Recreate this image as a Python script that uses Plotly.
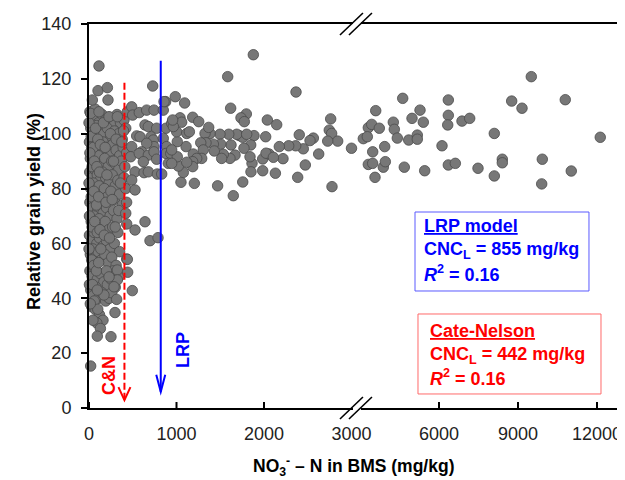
import plotly.graph_objects as go

# ---------------- data ----------------
# NO3-N in BMS (mg/kg) and relative grain yield (%)
dense_x = [10, 40, 70, 110, 150, 190, 230, 280, 320, 360, 400, 20, 60, 90, 130, 170, 210, 250, 290, 340, 380, 420,
           5, 30, 55, 85, 120, 160, 200, 240, 270, 310, 350, 390, 430, 15, 45, 75, 105, 140, 180, 220, 260, 300, 340, 370, 410,
           8, 35, 65, 95, 125, 155, 190, 230, 265, 300, 330, 400, 20, 50, 80, 115, 145, 175, 210, 250, 290, 350, 420,
           10, 40, 70, 100, 130, 160, 200, 240, 280, 320, 380, 25, 55, 85, 115, 150, 185, 225, 270, 330,
           5, 30, 60, 90, 120, 160, 200, 240, 290, 350, 15, 45, 75, 105, 140, 180, 220, 260, 310,
           10, 35, 65, 95, 130, 170, 210, 250, 300, 20, 50, 80, 110, 150, 190, 30, 70, 120, 160, 90, 130,
           0, 25, 50, 75, 100, 130, 10, 35, 60, 90, 120, 0, 25, 55, 85, 110, 5, 35, 65, 95, 125, 0, 30, 55, 85, 110,
           5, 40, 60, 100, 15, 45, 135, 175, 195, 205, 185, 165, 245, 280, 310, 265, 235, 300, 340, 360, 375, 395,
           345, 280, 200, 230, 260, 114, 103, 210, 217, 38, 19, 114, 229, 324, 438, 297, 316, 442, 431, 19, 95, 251,
           324, 324, 229, 286, 171, 95]
dense_y = [108, 106, 109, 104, 107, 105, 106, 103, 107, 104, 105, 102, 100, 103, 101, 100, 102, 99, 101, 100, 98, 102,
           97, 95, 98, 96, 94, 97, 95, 93, 96, 94, 92, 95, 93, 91, 92, 90, 92, 89, 91, 88, 90, 89, 87, 90, 88,
           86, 84, 87, 85, 83, 86, 84, 82, 85, 81, 83, 84, 80, 82, 79, 81, 78, 80, 77, 79, 76, 78, 80,
           75, 73, 76, 72, 74, 71, 73, 70, 72, 69, 74, 68, 70, 67, 69, 66, 68, 65, 66, 64,
           63, 61, 64, 60, 62, 59, 61, 58, 60, 57, 56, 58, 55, 57, 54, 56, 53, 55, 52,
           50, 48, 51, 47, 49, 46, 45, 47, 44, 43, 41, 44, 40, 42, 39, 37, 36, 34, 32, 31, 29,
           104, 99, 95, 102, 98, 96, 93, 88, 90, 88, 86, 82, 77, 79, 74, 77, 70, 66, 68, 64, 65, 58, 54, 52, 50, 53,
           45, 45, 39, 36, 38, 32, 58, 63, 75, 85, 95, 104, 100, 90, 98, 76, 62, 66, 72, 82, 97, 101,
           48, 50, 50, 40, 42, 124.7, 115.7, 116.8, 112.3, 112.3, 107.4, 108, 106.2, 106.2, 108, 34.8, 39.6, 49.5, 54.3, 15.3, 26.2, 26.0,
           50.3, 46.7, 47.8, 44.2, 41.2, 43]

mid_x = [728, 488, 499, 575, 659, 743, 849, 876, 640, 678, 773, 880, 945, 545, 583, 709, 735, 849, 888, 743, 659, 602,
         488, 476, 575, 678, 743, 773, 880, 934, 906, 621, 526, 629, 678, 781, 831, 488, 526, 640, 526, 697, 789, 438,
         495, 431, 430, 420, 857,
         1878, 1585, 2366, 986, 1093, 1619, 1798, 1737, 1775, 2038, 2145, 2762, 2746, 2773, 2842, 2728, 2403, 2564, 2526,
         2625, 2472, 2385, 2777, 2449, 2362, 2282, 2175, 2217, 2130, 1985, 1985, 2057, 2023, 2107, 2019, 1886, 1848, 1771,
         1863, 1851, 1757, 1649, 1470, 1204, 1051, 1078, 1021, 1718, 1757, 1688, 1802, 1597, 1497, 1383, 1326, 1368, 1623,
         1505, 1421, 1337, 1277, 1669, 1611, 1535, 1432, 1516, 1306, 1288, 1192, 1231, 1185, 1185, 1117, 1009, 1109, 1009,
         1002, 1117, 1147, 1040, 1059, 1185, 1254, 964, 956, 945, 945, 1840]
mid_y = [117.4, 109.8, 106.8, 107.7, 108.6, 108.6, 108.6, 111.7, 103.2, 102.6, 102.0, 102.0, 103.8, 99.2, 98.9, 98.9,
         97.7, 98.3, 95.3, 95.3, 96.5, 93.4, 95.3, 91.6, 92.8, 92.2, 93.4, 90.7, 92.8, 92.8, 89.2, 89.8, 86.1, 85.8, 86.1,
         85.3, 85.3, 83.1, 79.5, 67.9, 64.9, 61.0, 62.1, 54.2, 42.8, 67.1, 75, 71, 111.7,
         128.8, 120.8, 115.2, 113.5, 111.2, 109.3, 107.2, 105.8, 104.4, 105.0, 103.3, 105.4, 101.3, 100.1, 97.3, 97.3, 99.6,
         98.4, 97.5, 92.6, 88.6, 84.1, 80.7, 94.5, 95.6, 95.6, 95.3, 90.9, 85.6, 86.5, 90.8, 92.6, 92.9, 91.4, 98.9, 99.3,
         95.9, 94.7, 89.2, 86.1, 82.4, 77.4, 81.0, 81.9, 82.3, 85.9, 88.2, 99.3, 98.7, 99.8, 99.8, 99.8, 99.8, 100.1, 100.1,
         102.3, 95.9, 96.2, 96.2, 96.7, 96.7, 92.2, 91.0, 92.5, 93.7, 91.0, 94.1, 91.0, 92.6, 91.0, 89.8, 88.0, 89.6, 91.6,
         95.3, 97.1, 100.7, 100.1, 100.7, 105.8, 104.2, 106.0, 104.4, 102.6, 105.0, 94.1, 89.2, 91.6]

high_x = [3000, 3597, 3316, 3445, 3733, 3126, 3278, 3482, 3938, 3316, 3482, 3885, 3961, 3570, 4622, 4265, 4303, 4417,
          4682, 4975, 5279, 5404, 4850, 5176, 5176, 5457, 6354, 6354, 6331, 6873, 7166, 6114, 6354, 6620, 7481, 8100,
          8404, 8404, 8100, 8760, 9152, 9505, 9923, 9900, 10795, 11023, 12124]
high_y = [94.7, 108.4, 102.2, 103.4, 102.0, 98.2, 98.9, 93.4, 95.3, 88.8, 89.2, 87.8, 89.8, 84.1, 112.9, 104.2, 101.6,
          98.4, 87.8, 105.6, 108.6, 104.2, 97.7, 99.5, 98.0, 86.5, 112.3, 106.7, 103.2, 104.6, 105.6, 95.6, 88.6, 89.2,
          87.4, 100.1, 90.7, 89.4, 84.6, 111.9, 109.3, 120.8, 90.7, 81.7, 112.4, 86.4, 98.7]

x_tick_values = [0, 1000, 2000, 3000, 6000, 9000, 12000]
x_tick_labels = ["0", "1000", "2000", "3000", "6000", "9000", "12000"]
x_tick_marks = [0, 1000, 2000, 6000, 9000, 12000]

cn_line_x, cn_line_top = 405, 119
lrp_line_x, lrp_line_top = 820, 126.6


# broken x axis: 0-3000 linear, 3000-12000 compressed
def brk(v):
    return v if v <= 3000 else 4000 + (v - 6000) * 0.30095


xs = [brk(v) for v in dense_x + mid_x + high_x]
ys = dense_y + mid_y + high_y

FONT = "Liberation Sans, Arial, Helvetica, sans-serif"

fig = go.Figure()
fig.add_trace(go.Scatter(
    x=xs, y=ys, mode="markers", cliponaxis=False,
    marker=dict(size=10.5, color="#777777", line=dict(color="#4a4a4a", width=0.8)),
    showlegend=False, hoverinfo="skip"))

shapes = []
# x tick marks (crossing the axis)
for v in x_tick_marks:
    shapes.append(dict(type="line", xref="x", yref="y", xsizemode="pixel", ysizemode="pixel",
                       xanchor=brk(v), yanchor=0, x0=0, x1=0, y0=-5, y1=6,
                       line=dict(color="black", width=2)))
# vertical lines
shapes.append(dict(type="line", xref="x", yref="y", x0=cn_line_x, x1=cn_line_x, y0=3, y1=cn_line_top,
                   line=dict(color="#ff0000", width=2, dash="7px,3px")))
shapes.append(dict(type="path", xref="x", yref="y", xsizemode="pixel", ysizemode="pixel",
                   xanchor=cn_line_x, yanchor=2.9, path="M-6,13 L0,0 L6,13",
                   line=dict(color="#ff0000", width=2)))
shapes.append(dict(type="line", xref="x", yref="y", x0=lrp_line_x, x1=lrp_line_x, y0=5.9, y1=lrp_line_top,
                   line=dict(color="#0000ff", width=2)))
shapes.append(dict(type="path", xref="x", yref="y", xsizemode="pixel", ysizemode="pixel",
                   xanchor=lrp_line_x, yanchor=5.9, path="M-4.5,17 L0,0 L4.5,17",
                   line=dict(color="#0000ff", width=2)))
# axis break marks
brk_anchor = 3051
for ya in (0, 1):
    shapes.append(dict(type="rect", xref="x", yref="paper", xsizemode="pixel", ysizemode="pixel",
                       xanchor=brk_anchor, yanchor=ya, x0=-3, x1=5, y0=-3, y1=3,
                       fillcolor="white", line=dict(width=0)))
    for dx in (0, 9):
        shapes.append(dict(type="line", xref="x", yref="paper", xsizemode="pixel", ysizemode="pixel",
                           xanchor=brk_anchor, yanchor=ya, x0=-16 + dx, y0=-11, x1=7 + dx, y1=11,
                           line=dict(color="black", width=1.6)))
# text boxes
shapes.append(dict(type="rect", xref="paper", yref="paper", x0=0.6128, x1=0.9398, y0=0.3047, y1=0.5104,
                   line=dict(color="#5a5aff", width=1)))
shapes.append(dict(type="rect", xref="paper", yref="paper", x0=0.6184, x1=0.9624, y0=0.0365, y1=0.2448,
                   line=dict(color="#ff6a6a", width=1)))

ann = []
ann.append(dict(text="<b>Relative grain yield (%)</b>", textangle=-90, xref="paper", yref="paper",
                x=-0.126, y=0.513, showarrow=False, font=dict(size=18, color="black", family=FONT)))
ann.append(dict(text="<b>NO<sub>3</sub><sup>-</sup> – N in BMS (mg/kg)</b>", xref="paper", yref="paper",
                x=0.498, y=-0.153, showarrow=False, yanchor="middle", font=dict(size=17.5, color="black", family=FONT)))
ann.append(dict(text="<b>C&N</b>", textangle=-90, xref="x", yref="y", x=229, y=11.7, showarrow=False,
                font=dict(size=18, color="#ff0000", family=FONT)))
ann.append(dict(text="<b>LRP</b>", textangle=-90, xref="x", yref="y", x=1074, y=21.1, showarrow=False,
                font=dict(size=18, color="#0000ff", family=FONT)))
blue_lines = ["<b><u>LRP model</u></b>", "<b>CNC<sub>L</sub> = 855 mg/kg</b>", "<b><i>R</i><sup>2</sup> = 0.16</b>"]
red_lines = ["<b><u>Cate-Nelson</u></b>", "<b>CNC<sub>L</sub> = 442 mg/kg</b>", "<b><i>R</i><sup>2</sup> = 0.16</b>"]
for t, yy in zip(blue_lines, [0.474, 0.409, 0.349]):
    ann.append(dict(text=t, xref="paper", yref="paper", x=0.626, y=yy, xanchor="left", yanchor="middle",
                    showarrow=False, font=dict(size=18, color="#0000ff", family=FONT)))
for t, yy in zip(red_lines, [0.2005, 0.138, 0.0807]):
    ann.append(dict(text=t, xref="paper", yref="paper", x=0.637, y=yy, xanchor="left", yanchor="middle",
                    showarrow=False, font=dict(size=18, color="#ff0000", family=FONT)))

# the page body has an 8px margin, so the figure is 8px smaller and its left/top margins 8px tighter
fig.update_layout(
    width=617, height=472, margin=dict(l=81, r=4, t=16, b=72, autoexpand=False),
    paper_bgcolor="white", plot_bgcolor="white",
    font=dict(family=FONT, color="black"),
    shapes=shapes, annotations=ann,
    xaxis=dict(range=[0, 6080], showgrid=False, zeroline=False, showline=True, mirror=True,
               linecolor="black", linewidth=2, ticks="", automargin=False,
               tickvals=[brk(v) for v in x_tick_values], ticktext=x_tick_labels,
               tickfont=dict(size=18, color="#222222", family=FONT), ticklabelstandoff=8),
    yaxis=dict(range=[0, 140], showgrid=False, zeroline=False, showline=True, mirror=True,
               linecolor="black", linewidth=2, ticks="outside", ticklen=6, tickwidth=2, tickcolor="black",
               automargin=False, tickvals=[0, 20, 40, 60, 80, 100, 120, 140],
               tickfont=dict(size=18, color="#222222", family=FONT), ticklabelstandoff=6),
)

fig.write_html("out.html")
